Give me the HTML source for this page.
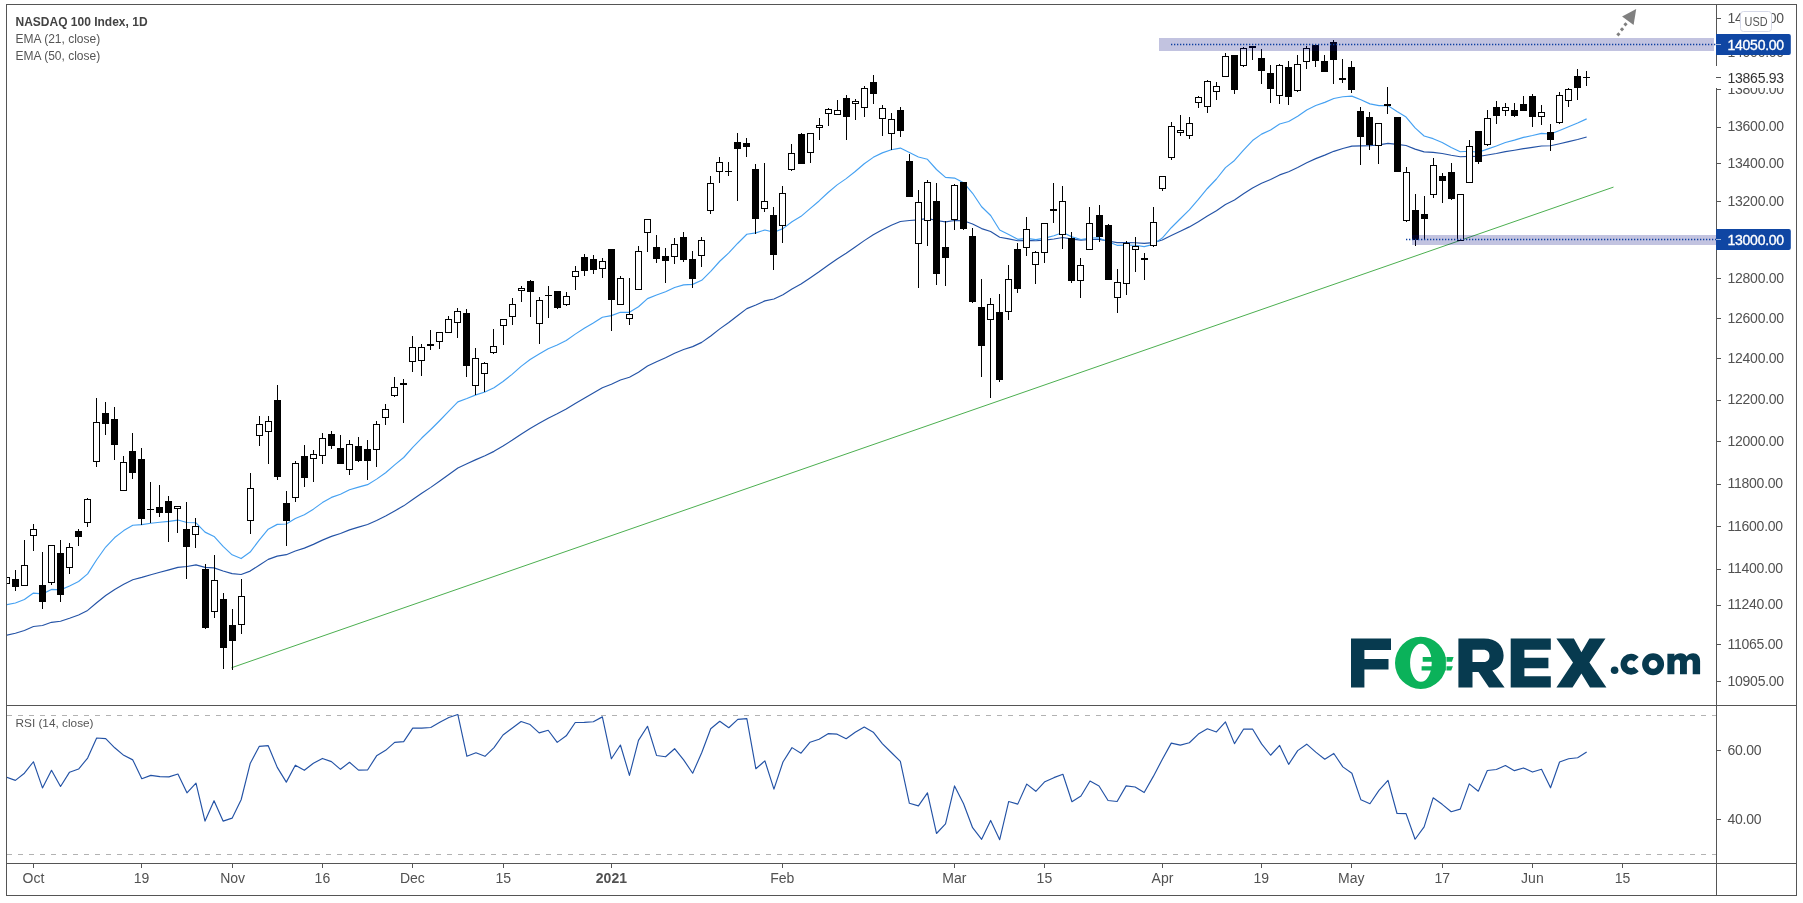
<!DOCTYPE html>
<html><head><meta charset="utf-8"><style>
html,body{margin:0;padding:0;background:#fff;}
svg{display:block;will-change:transform;}
text{font-family:"Liberation Sans", sans-serif;}
</style></head><body>
<svg width="1803" height="903" viewBox="0 0 1803 903">
<rect x="0" y="0" width="1803" height="903" fill="#fff"/>
<defs><clipPath id="mainclip"><rect x="7" y="5" width="1709" height="700"/></clipPath>
<clipPath id="rsiclip"><rect x="7" y="706" width="1709" height="157"/></clipPath></defs>

<g clip-path="url(#mainclip)">
<text x="15.5" y="26" font-size="12" font-weight="bold" fill="#434343">NASDAQ 100 Index, 1D</text>
<text x="15.5" y="43" font-size="12" fill="#555">EMA (21, close)</text>
<text x="15.5" y="60" font-size="12" fill="#555">EMA (50, close)</text>
<polyline points="6.35,635.20 15.38,633.28 24.41,630.56 33.44,626.51 42.47,625.53 51.50,622.33 60.53,621.24 69.56,618.30 78.59,615.06 87.63,610.42 96.66,602.76 105.69,595.49 114.72,589.40 123.75,584.29 132.78,579.81 141.81,577.39 150.84,574.69 159.87,572.22 168.90,569.86 177.93,567.34 186.96,566.53 195.99,564.92 205.02,567.35 214.05,567.85 223.08,570.94 232.11,573.65 241.14,574.53 250.17,571.09 259.20,565.17 268.23,559.37 277.26,556.09 286.29,554.69 295.32,551.04 304.35,548.12 313.38,544.37 322.41,540.12 331.44,536.36 340.47,533.47 349.51,529.89 358.54,527.16 367.57,524.53 376.60,520.52 385.63,516.07 394.66,510.90 403.69,505.85 412.72,499.45 421.75,493.31 430.78,487.36 439.81,481.09 448.84,474.53 457.87,467.93 466.90,463.84 475.93,459.62 484.96,455.77 493.99,451.37 503.02,446.06 512.05,440.35 521.08,434.21 530.11,428.46 539.14,423.31 548.17,418.17 557.20,413.75 566.23,409.04 575.26,403.49 584.29,398.16 593.32,393.00 602.36,387.70 611.39,384.19 620.42,379.95 629.45,377.32 638.48,372.25 647.51,366.05 656.54,361.75 665.57,357.71 674.60,353.16 683.63,349.43 692.66,346.63 701.69,342.37 710.72,335.94 719.75,328.90 728.78,322.52 737.81,315.46 746.84,308.62 755.87,305.03 764.90,300.88 773.93,299.06 782.96,294.80 791.99,289.10 801.02,284.05 810.05,277.97 819.08,271.79 828.11,265.23 837.14,258.96 846.17,253.22 855.20,247.07 864.24,240.64 873.27,234.74 882.30,229.67 891.33,225.25 900.36,221.48 909.39,220.53 918.42,219.81 927.45,218.34 936.48,220.49 945.51,221.94 954.54,220.49 963.57,220.82 972.60,223.94 981.63,228.61 990.66,231.54 999.69,237.20 1008.72,238.84 1017.75,240.78 1026.78,240.33 1035.81,240.79 1044.84,240.10 1053.87,238.96 1062.90,237.46 1071.93,239.15 1080.96,240.17 1089.99,239.51 1099.02,239.41 1108.05,240.97 1117.09,242.59 1126.12,242.61 1135.15,242.75 1144.18,243.43 1153.21,242.59 1162.24,239.95 1171.27,235.41 1180.30,231.21 1189.33,226.89 1198.36,221.68 1207.39,216.02 1216.42,210.80 1225.45,204.56 1234.48,199.96 1243.51,193.84 1252.54,187.95 1261.57,183.24 1270.60,179.47 1279.63,174.89 1288.66,171.77 1297.69,167.47 1306.72,162.69 1315.75,158.61 1324.78,155.15 1333.81,151.33 1342.84,148.49 1351.87,146.17 1360.90,145.81 1369.93,145.77 1378.97,144.87 1388.00,143.33 1397.03,144.43 1406.06,145.51 1415.09,149.13 1424.12,151.83 1433.15,152.35 1442.18,153.46 1451.21,155.23 1460.24,156.75 1469.27,156.33 1478.30,156.54 1487.33,155.03 1496.36,153.48 1505.39,151.66 1514.42,150.25 1523.45,148.69 1532.48,147.44 1541.51,146.05 1550.54,145.80 1559.57,143.80 1568.60,141.63 1577.63,139.49 1586.66,137.02" fill="none" stroke="#2453a6" stroke-width="1.15" stroke-linejoin="round"/>
<polyline points="6.35,604.70 15.38,603.05 24.41,599.57 33.44,593.09 42.47,593.87 51.50,589.41 60.53,589.89 69.56,585.98 78.59,581.47 87.63,573.89 96.66,559.72 105.69,547.03 114.72,537.55 123.75,530.60 132.78,525.27 141.81,524.68 150.84,523.28 159.87,522.30 168.90,521.44 177.93,520.06 186.96,522.48 195.99,522.79 205.02,532.14 214.05,536.46 223.08,546.39 232.11,554.83 241.14,558.56 250.17,552.09 259.20,540.20 268.23,529.15 277.26,524.38 286.29,524.03 295.32,518.44 304.35,514.71 313.38,509.15 322.41,502.62 331.44,497.40 340.47,494.32 349.51,489.69 358.54,487.09 367.57,484.68 376.60,479.13 385.63,472.71 394.66,464.84 403.69,457.50 412.72,447.29 421.75,438.04 430.78,429.52 439.81,420.51 448.84,411.12 457.87,401.89 466.90,398.58 475.93,394.88 484.96,391.98 493.99,387.78 503.02,381.48 512.05,374.36 521.08,366.41 530.11,359.52 539.14,354.09 548.17,348.69 557.20,344.94 566.23,340.49 575.26,334.12 584.29,328.31 593.32,322.93 602.36,317.26 611.39,315.65 620.42,312.24 629.45,312.36 638.48,306.75 647.51,298.61 656.54,294.95 665.57,291.81 674.60,287.45 683.63,284.91 692.66,284.37 701.69,280.33 710.72,271.36 719.75,261.25 728.78,252.90 737.81,243.23 746.84,234.28 755.87,232.86 764.90,229.98 773.93,232.24 782.96,228.61 791.99,221.67 801.02,216.32 810.05,208.66 819.08,200.94 828.11,192.49 837.14,184.90 846.17,178.60 855.20,171.44 864.24,163.74 873.27,157.36 882.30,152.87 891.33,149.81 900.36,148.08 909.39,152.52 918.42,157.00 927.45,159.30 936.48,169.50 945.51,177.40 954.54,178.11 963.57,182.67 972.60,193.27 981.63,206.75 990.66,215.48 999.69,230.00 1008.72,234.45 1017.75,239.35 1026.78,238.42 1035.81,239.66 1044.84,238.17 1053.87,235.70 1062.90,232.54 1071.93,236.89 1080.96,239.46 1089.99,237.99 1099.02,237.91 1108.05,241.66 1117.09,245.34 1126.12,245.15 1135.15,245.24 1144.18,246.58 1153.21,244.35 1162.24,238.08 1171.27,227.73 1180.30,218.73 1189.33,209.90 1198.36,199.46 1207.39,188.48 1216.42,179.00 1225.45,167.60 1234.48,160.44 1243.51,150.03 1252.54,140.57 1261.57,134.12 1270.60,129.97 1279.63,124.01 1288.66,121.50 1297.69,116.24 1306.72,109.99 1315.75,105.47 1324.78,102.39 1333.81,98.47 1342.84,96.78 1351.87,96.15 1360.90,99.84 1369.93,103.89 1378.97,105.61 1388.00,105.64 1397.03,111.57 1406.06,117.02 1415.09,127.91 1424.12,136.04 1433.15,138.67 1442.18,142.46 1451.21,147.55 1460.24,151.76 1469.27,151.26 1478.30,152.20 1487.33,149.09 1496.36,146.05 1505.39,142.51 1514.42,140.08 1523.45,137.41 1532.48,135.54 1541.51,133.42 1550.54,133.98 1559.57,130.44 1568.60,126.66 1577.63,123.08 1586.66,118.88" fill="none" stroke="#45a1f2" stroke-width="1.15" stroke-linejoin="round"/>
<line x1="231.4" y1="667.8" x2="1613.5" y2="187.1" stroke="#4caf50" stroke-width="1"/>
<line x1="6.5" y1="577" x2="6.5" y2="584" stroke="#000" stroke-width="1"/>
<rect x="3.5" y="577.5" width="6" height="6" fill="#fff" stroke="#000" stroke-width="1"/>
<line x1="15.5" y1="570" x2="15.5" y2="591" stroke="#000" stroke-width="1"/>
<rect x="12" y="579" width="7" height="8" fill="#000"/>
<line x1="24.5" y1="540" x2="24.5" y2="586" stroke="#000" stroke-width="1"/>
<rect x="21.5" y="565.5" width="6" height="20" fill="#fff" stroke="#000" stroke-width="1"/>
<line x1="33.5" y1="524" x2="33.5" y2="551" stroke="#000" stroke-width="1"/>
<rect x="30.5" y="529.5" width="6" height="6" fill="#fff" stroke="#000" stroke-width="1"/>
<line x1="42.5" y1="552" x2="42.5" y2="609" stroke="#000" stroke-width="1"/>
<rect x="39" y="585" width="7" height="17" fill="#000"/>
<line x1="51.5" y1="545" x2="51.5" y2="585" stroke="#000" stroke-width="1"/>
<rect x="48.5" y="545.5" width="6" height="37" fill="#fff" stroke="#000" stroke-width="1"/>
<line x1="60.5" y1="540" x2="60.5" y2="602" stroke="#000" stroke-width="1"/>
<rect x="57" y="553" width="7" height="42" fill="#000"/>
<line x1="69.5" y1="543" x2="69.5" y2="574" stroke="#000" stroke-width="1"/>
<rect x="66.5" y="547.5" width="6" height="20" fill="#fff" stroke="#000" stroke-width="1"/>
<line x1="78.5" y1="529" x2="78.5" y2="546" stroke="#000" stroke-width="1"/>
<rect x="75" y="531" width="7" height="6" fill="#000"/>
<line x1="87.5" y1="498" x2="87.5" y2="527" stroke="#000" stroke-width="1"/>
<rect x="84.5" y="499.5" width="6" height="23" fill="#fff" stroke="#000" stroke-width="1"/>
<line x1="96.5" y1="398" x2="96.5" y2="467" stroke="#000" stroke-width="1"/>
<rect x="93.5" y="422.5" width="6" height="39" fill="#fff" stroke="#000" stroke-width="1"/>
<line x1="105.5" y1="402" x2="105.5" y2="435" stroke="#000" stroke-width="1"/>
<rect x="102" y="413" width="7" height="11" fill="#000"/>
<line x1="114.5" y1="407" x2="114.5" y2="460" stroke="#000" stroke-width="1"/>
<rect x="111" y="419" width="7" height="26" fill="#000"/>
<line x1="123.5" y1="456" x2="123.5" y2="491" stroke="#000" stroke-width="1"/>
<rect x="120.5" y="462.5" width="6" height="28" fill="#fff" stroke="#000" stroke-width="1"/>
<line x1="132.5" y1="433" x2="132.5" y2="479" stroke="#000" stroke-width="1"/>
<rect x="129" y="451" width="7" height="22" fill="#000"/>
<line x1="141.5" y1="448" x2="141.5" y2="525" stroke="#000" stroke-width="1"/>
<rect x="138" y="459" width="7" height="60" fill="#000"/>
<line x1="150.5" y1="482" x2="150.5" y2="523" stroke="#000" stroke-width="1"/>
<rect x="147" y="509" width="7" height="1" fill="#000"/>
<line x1="159.5" y1="485" x2="159.5" y2="517" stroke="#000" stroke-width="1"/>
<rect x="156" y="507" width="7" height="6" fill="#000"/>
<line x1="168.5" y1="496" x2="168.5" y2="542" stroke="#000" stroke-width="1"/>
<rect x="165" y="501" width="7" height="12" fill="#000"/>
<line x1="177.5" y1="506" x2="177.5" y2="533" stroke="#000" stroke-width="1"/>
<rect x="174.5" y="506.5" width="6" height="2" fill="#fff" stroke="#000" stroke-width="1"/>
<line x1="186.5" y1="502" x2="186.5" y2="579" stroke="#000" stroke-width="1"/>
<rect x="183" y="529" width="7" height="18" fill="#000"/>
<line x1="195.5" y1="518" x2="195.5" y2="548" stroke="#000" stroke-width="1"/>
<rect x="192.5" y="526.5" width="6" height="8" fill="#fff" stroke="#000" stroke-width="1"/>
<line x1="205.5" y1="564" x2="205.5" y2="629" stroke="#000" stroke-width="1"/>
<rect x="202" y="569" width="7" height="59" fill="#000"/>
<line x1="214.5" y1="555" x2="214.5" y2="618" stroke="#000" stroke-width="1"/>
<rect x="211.5" y="580.5" width="6" height="31" fill="#fff" stroke="#000" stroke-width="1"/>
<line x1="223.5" y1="593" x2="223.5" y2="669" stroke="#000" stroke-width="1"/>
<rect x="220" y="599" width="7" height="49" fill="#000"/>
<line x1="232.5" y1="609" x2="232.5" y2="670" stroke="#000" stroke-width="1"/>
<rect x="229" y="625" width="7" height="16" fill="#000"/>
<line x1="241.5" y1="579" x2="241.5" y2="634" stroke="#000" stroke-width="1"/>
<rect x="238.5" y="596.5" width="6" height="28" fill="#fff" stroke="#000" stroke-width="1"/>
<line x1="250.5" y1="473" x2="250.5" y2="534" stroke="#000" stroke-width="1"/>
<rect x="247.5" y="488.5" width="6" height="32" fill="#fff" stroke="#000" stroke-width="1"/>
<line x1="259.5" y1="416" x2="259.5" y2="446" stroke="#000" stroke-width="1"/>
<rect x="256.5" y="424.5" width="6" height="11" fill="#fff" stroke="#000" stroke-width="1"/>
<line x1="268.5" y1="416" x2="268.5" y2="464" stroke="#000" stroke-width="1"/>
<rect x="265.5" y="421.5" width="6" height="10" fill="#fff" stroke="#000" stroke-width="1"/>
<line x1="277.5" y1="385" x2="277.5" y2="480" stroke="#000" stroke-width="1"/>
<rect x="274" y="400" width="7" height="77" fill="#000"/>
<line x1="286.5" y1="491" x2="286.5" y2="546" stroke="#000" stroke-width="1"/>
<rect x="283" y="503" width="7" height="18" fill="#000"/>
<line x1="295.5" y1="461" x2="295.5" y2="502" stroke="#000" stroke-width="1"/>
<rect x="292.5" y="463.5" width="6" height="34" fill="#fff" stroke="#000" stroke-width="1"/>
<line x1="304.5" y1="445" x2="304.5" y2="487" stroke="#000" stroke-width="1"/>
<rect x="301" y="456" width="7" height="22" fill="#000"/>
<line x1="313.5" y1="450" x2="313.5" y2="482" stroke="#000" stroke-width="1"/>
<rect x="310.5" y="454.5" width="6" height="4" fill="#fff" stroke="#000" stroke-width="1"/>
<line x1="322.5" y1="433" x2="322.5" y2="464" stroke="#000" stroke-width="1"/>
<rect x="319.5" y="438.5" width="6" height="17" fill="#fff" stroke="#000" stroke-width="1"/>
<line x1="331.5" y1="431" x2="331.5" y2="449" stroke="#000" stroke-width="1"/>
<rect x="328" y="434" width="7" height="12" fill="#000"/>
<line x1="340.5" y1="435" x2="340.5" y2="464" stroke="#000" stroke-width="1"/>
<rect x="337" y="448" width="7" height="16" fill="#000"/>
<line x1="349.5" y1="440" x2="349.5" y2="475" stroke="#000" stroke-width="1"/>
<rect x="346.5" y="444.5" width="6" height="25" fill="#fff" stroke="#000" stroke-width="1"/>
<line x1="358.5" y1="437" x2="358.5" y2="462" stroke="#000" stroke-width="1"/>
<rect x="355" y="446" width="7" height="15" fill="#000"/>
<line x1="367.5" y1="440" x2="367.5" y2="480" stroke="#000" stroke-width="1"/>
<rect x="364" y="449" width="7" height="12" fill="#000"/>
<line x1="376.5" y1="421" x2="376.5" y2="467" stroke="#000" stroke-width="1"/>
<rect x="373.5" y="424.5" width="6" height="25" fill="#fff" stroke="#000" stroke-width="1"/>
<line x1="385.5" y1="404" x2="385.5" y2="425" stroke="#000" stroke-width="1"/>
<rect x="382.5" y="409.5" width="6" height="8" fill="#fff" stroke="#000" stroke-width="1"/>
<line x1="394.5" y1="377" x2="394.5" y2="397" stroke="#000" stroke-width="1"/>
<rect x="391.5" y="387.5" width="6" height="8" fill="#fff" stroke="#000" stroke-width="1"/>
<line x1="403.5" y1="379" x2="403.5" y2="423" stroke="#000" stroke-width="1"/>
<rect x="400" y="383" width="7" height="2" fill="#000"/>
<line x1="412.5" y1="336" x2="412.5" y2="372" stroke="#000" stroke-width="1"/>
<rect x="409.5" y="347.5" width="6" height="14" fill="#fff" stroke="#000" stroke-width="1"/>
<line x1="421.5" y1="344" x2="421.5" y2="376" stroke="#000" stroke-width="1"/>
<rect x="418.5" y="347.5" width="6" height="13" fill="#fff" stroke="#000" stroke-width="1"/>
<line x1="430.5" y1="330" x2="430.5" y2="350" stroke="#000" stroke-width="1"/>
<rect x="427" y="344" width="7" height="2" fill="#000"/>
<line x1="439.5" y1="332" x2="439.5" y2="349" stroke="#000" stroke-width="1"/>
<rect x="436.5" y="332.5" width="6" height="9" fill="#fff" stroke="#000" stroke-width="1"/>
<line x1="448.5" y1="316" x2="448.5" y2="333" stroke="#000" stroke-width="1"/>
<rect x="445.5" y="319.5" width="6" height="13" fill="#fff" stroke="#000" stroke-width="1"/>
<line x1="457.5" y1="308" x2="457.5" y2="338" stroke="#000" stroke-width="1"/>
<rect x="454.5" y="311.5" width="6" height="11" fill="#fff" stroke="#000" stroke-width="1"/>
<line x1="466.5" y1="309" x2="466.5" y2="377" stroke="#000" stroke-width="1"/>
<rect x="463" y="313" width="7" height="53" fill="#000"/>
<line x1="475.5" y1="348" x2="475.5" y2="395" stroke="#000" stroke-width="1"/>
<rect x="472.5" y="358.5" width="6" height="27" fill="#fff" stroke="#000" stroke-width="1"/>
<line x1="484.5" y1="362" x2="484.5" y2="392" stroke="#000" stroke-width="1"/>
<rect x="481.5" y="363.5" width="6" height="10" fill="#fff" stroke="#000" stroke-width="1"/>
<line x1="493.5" y1="329" x2="493.5" y2="354" stroke="#000" stroke-width="1"/>
<rect x="490.5" y="346.5" width="6" height="6" fill="#fff" stroke="#000" stroke-width="1"/>
<line x1="503.5" y1="319" x2="503.5" y2="345" stroke="#000" stroke-width="1"/>
<rect x="500.5" y="319.5" width="6" height="6" fill="#fff" stroke="#000" stroke-width="1"/>
<line x1="512.5" y1="298" x2="512.5" y2="325" stroke="#000" stroke-width="1"/>
<rect x="509.5" y="304.5" width="6" height="12" fill="#fff" stroke="#000" stroke-width="1"/>
<line x1="521.5" y1="286" x2="521.5" y2="302" stroke="#000" stroke-width="1"/>
<rect x="518.5" y="288.5" width="6" height="2" fill="#fff" stroke="#000" stroke-width="1"/>
<line x1="530.5" y1="280" x2="530.5" y2="317" stroke="#000" stroke-width="1"/>
<rect x="527" y="281" width="7" height="11" fill="#000"/>
<line x1="539.5" y1="297" x2="539.5" y2="344" stroke="#000" stroke-width="1"/>
<rect x="536.5" y="300.5" width="6" height="23" fill="#fff" stroke="#000" stroke-width="1"/>
<line x1="548.5" y1="286" x2="548.5" y2="318" stroke="#000" stroke-width="1"/>
<rect x="545" y="295" width="7" height="1" fill="#000"/>
<line x1="557.5" y1="291" x2="557.5" y2="309" stroke="#000" stroke-width="1"/>
<rect x="554" y="291" width="7" height="17" fill="#000"/>
<line x1="566.5" y1="292" x2="566.5" y2="306" stroke="#000" stroke-width="1"/>
<rect x="563.5" y="296.5" width="6" height="8" fill="#fff" stroke="#000" stroke-width="1"/>
<line x1="575.5" y1="266" x2="575.5" y2="290" stroke="#000" stroke-width="1"/>
<rect x="572.5" y="271.5" width="6" height="5" fill="#fff" stroke="#000" stroke-width="1"/>
<line x1="584.5" y1="254" x2="584.5" y2="276" stroke="#000" stroke-width="1"/>
<rect x="581" y="257" width="7" height="14" fill="#000"/>
<line x1="593.5" y1="255" x2="593.5" y2="274" stroke="#000" stroke-width="1"/>
<rect x="590" y="259" width="7" height="11" fill="#000"/>
<line x1="602.5" y1="258" x2="602.5" y2="278" stroke="#000" stroke-width="1"/>
<rect x="599.5" y="261.5" width="6" height="7" fill="#fff" stroke="#000" stroke-width="1"/>
<line x1="611.5" y1="249" x2="611.5" y2="331" stroke="#000" stroke-width="1"/>
<rect x="608" y="249" width="7" height="51" fill="#000"/>
<line x1="620.5" y1="276" x2="620.5" y2="305" stroke="#000" stroke-width="1"/>
<rect x="617.5" y="278.5" width="6" height="26" fill="#fff" stroke="#000" stroke-width="1"/>
<line x1="629.5" y1="278" x2="629.5" y2="325" stroke="#000" stroke-width="1"/>
<rect x="626.5" y="314.5" width="6" height="4" fill="#fff" stroke="#000" stroke-width="1"/>
<line x1="638.5" y1="246" x2="638.5" y2="290" stroke="#000" stroke-width="1"/>
<rect x="635.5" y="251.5" width="6" height="38" fill="#fff" stroke="#000" stroke-width="1"/>
<line x1="647.5" y1="219" x2="647.5" y2="252" stroke="#000" stroke-width="1"/>
<rect x="644.5" y="219.5" width="6" height="13" fill="#fff" stroke="#000" stroke-width="1"/>
<line x1="656.5" y1="235" x2="656.5" y2="263" stroke="#000" stroke-width="1"/>
<rect x="653" y="247" width="7" height="12" fill="#000"/>
<line x1="665.5" y1="248" x2="665.5" y2="283" stroke="#000" stroke-width="1"/>
<rect x="662" y="256" width="7" height="5" fill="#000"/>
<line x1="674.5" y1="238" x2="674.5" y2="264" stroke="#000" stroke-width="1"/>
<rect x="671.5" y="244.5" width="6" height="12" fill="#fff" stroke="#000" stroke-width="1"/>
<line x1="683.5" y1="232" x2="683.5" y2="262" stroke="#000" stroke-width="1"/>
<rect x="680" y="237" width="7" height="23" fill="#000"/>
<line x1="692.5" y1="251" x2="692.5" y2="288" stroke="#000" stroke-width="1"/>
<rect x="689" y="259" width="7" height="20" fill="#000"/>
<line x1="701.5" y1="237" x2="701.5" y2="267" stroke="#000" stroke-width="1"/>
<rect x="698.5" y="240.5" width="6" height="15" fill="#fff" stroke="#000" stroke-width="1"/>
<line x1="710.5" y1="176" x2="710.5" y2="214" stroke="#000" stroke-width="1"/>
<rect x="707.5" y="183.5" width="6" height="27" fill="#fff" stroke="#000" stroke-width="1"/>
<line x1="719.5" y1="157" x2="719.5" y2="183" stroke="#000" stroke-width="1"/>
<rect x="716.5" y="162.5" width="6" height="9" fill="#fff" stroke="#000" stroke-width="1"/>
<line x1="728.5" y1="162" x2="728.5" y2="176" stroke="#000" stroke-width="1"/>
<rect x="725" y="171" width="7" height="1" fill="#000"/>
<line x1="737.5" y1="133" x2="737.5" y2="201" stroke="#000" stroke-width="1"/>
<rect x="734" y="142" width="7" height="7" fill="#000"/>
<line x1="746.5" y1="138" x2="746.5" y2="157" stroke="#000" stroke-width="1"/>
<rect x="743" y="143" width="7" height="4" fill="#000"/>
<line x1="755.5" y1="164" x2="755.5" y2="234" stroke="#000" stroke-width="1"/>
<rect x="752" y="169" width="7" height="50" fill="#000"/>
<line x1="764.5" y1="163" x2="764.5" y2="212" stroke="#000" stroke-width="1"/>
<rect x="761.5" y="201.5" width="6" height="7" fill="#fff" stroke="#000" stroke-width="1"/>
<line x1="773.5" y1="207" x2="773.5" y2="270" stroke="#000" stroke-width="1"/>
<rect x="770" y="215" width="7" height="40" fill="#000"/>
<line x1="782.5" y1="186" x2="782.5" y2="243" stroke="#000" stroke-width="1"/>
<rect x="779.5" y="193.5" width="6" height="32" fill="#fff" stroke="#000" stroke-width="1"/>
<line x1="791.5" y1="144" x2="791.5" y2="171" stroke="#000" stroke-width="1"/>
<rect x="788.5" y="153.5" width="6" height="16" fill="#fff" stroke="#000" stroke-width="1"/>
<line x1="801.5" y1="133" x2="801.5" y2="164" stroke="#000" stroke-width="1"/>
<rect x="798" y="134" width="7" height="30" fill="#000"/>
<line x1="810.5" y1="133" x2="810.5" y2="163" stroke="#000" stroke-width="1"/>
<rect x="807.5" y="133.5" width="6" height="19" fill="#fff" stroke="#000" stroke-width="1"/>
<line x1="819.5" y1="118" x2="819.5" y2="140" stroke="#000" stroke-width="1"/>
<rect x="816.5" y="125.5" width="6" height="2" fill="#fff" stroke="#000" stroke-width="1"/>
<line x1="828.5" y1="108" x2="828.5" y2="126" stroke="#000" stroke-width="1"/>
<rect x="825.5" y="109.5" width="6" height="4" fill="#fff" stroke="#000" stroke-width="1"/>
<line x1="837.5" y1="100" x2="837.5" y2="115" stroke="#000" stroke-width="1"/>
<rect x="834.5" y="110.5" width="6" height="4" fill="#fff" stroke="#000" stroke-width="1"/>
<line x1="846.5" y1="95" x2="846.5" y2="140" stroke="#000" stroke-width="1"/>
<rect x="843" y="98" width="7" height="19" fill="#000"/>
<line x1="855.5" y1="99" x2="855.5" y2="120" stroke="#000" stroke-width="1"/>
<rect x="852.5" y="101.5" width="6" height="2" fill="#fff" stroke="#000" stroke-width="1"/>
<line x1="864.5" y1="86" x2="864.5" y2="117" stroke="#000" stroke-width="1"/>
<rect x="861.5" y="88.5" width="6" height="19" fill="#fff" stroke="#000" stroke-width="1"/>
<line x1="873.5" y1="75" x2="873.5" y2="104" stroke="#000" stroke-width="1"/>
<rect x="870" y="82" width="7" height="12" fill="#000"/>
<line x1="882.5" y1="105" x2="882.5" y2="136" stroke="#000" stroke-width="1"/>
<rect x="879.5" y="108.5" width="6" height="10" fill="#fff" stroke="#000" stroke-width="1"/>
<line x1="891.5" y1="113" x2="891.5" y2="150" stroke="#000" stroke-width="1"/>
<rect x="888.5" y="119.5" width="6" height="14" fill="#fff" stroke="#000" stroke-width="1"/>
<line x1="900.5" y1="107" x2="900.5" y2="137" stroke="#000" stroke-width="1"/>
<rect x="897" y="110" width="7" height="21" fill="#000"/>
<line x1="909.5" y1="154" x2="909.5" y2="197" stroke="#000" stroke-width="1"/>
<rect x="906" y="161" width="7" height="36" fill="#000"/>
<line x1="918.5" y1="190" x2="918.5" y2="288" stroke="#000" stroke-width="1"/>
<rect x="915.5" y="202.5" width="6" height="41" fill="#fff" stroke="#000" stroke-width="1"/>
<line x1="927.5" y1="180" x2="927.5" y2="246" stroke="#000" stroke-width="1"/>
<rect x="924.5" y="182.5" width="6" height="38" fill="#fff" stroke="#000" stroke-width="1"/>
<line x1="936.5" y1="183" x2="936.5" y2="285" stroke="#000" stroke-width="1"/>
<rect x="933" y="201" width="7" height="73" fill="#000"/>
<line x1="945.5" y1="221" x2="945.5" y2="286" stroke="#000" stroke-width="1"/>
<rect x="942" y="247" width="7" height="11" fill="#000"/>
<line x1="954.5" y1="184" x2="954.5" y2="230" stroke="#000" stroke-width="1"/>
<rect x="951.5" y="185.5" width="6" height="34" fill="#fff" stroke="#000" stroke-width="1"/>
<line x1="963.5" y1="182" x2="963.5" y2="230" stroke="#000" stroke-width="1"/>
<rect x="960" y="182" width="7" height="47" fill="#000"/>
<line x1="972.5" y1="228" x2="972.5" y2="303" stroke="#000" stroke-width="1"/>
<rect x="969" y="236" width="7" height="66" fill="#000"/>
<line x1="981.5" y1="279" x2="981.5" y2="377" stroke="#000" stroke-width="1"/>
<rect x="978" y="307" width="7" height="39" fill="#000"/>
<line x1="990.5" y1="298" x2="990.5" y2="398" stroke="#000" stroke-width="1"/>
<rect x="987.5" y="304.5" width="6" height="15" fill="#fff" stroke="#000" stroke-width="1"/>
<line x1="999.5" y1="294" x2="999.5" y2="382" stroke="#000" stroke-width="1"/>
<rect x="996" y="312" width="7" height="68" fill="#000"/>
<line x1="1008.5" y1="265" x2="1008.5" y2="320" stroke="#000" stroke-width="1"/>
<rect x="1005.5" y="279.5" width="6" height="32" fill="#fff" stroke="#000" stroke-width="1"/>
<line x1="1017.5" y1="243" x2="1017.5" y2="293" stroke="#000" stroke-width="1"/>
<rect x="1014" y="249" width="7" height="40" fill="#000"/>
<line x1="1026.5" y1="217" x2="1026.5" y2="256" stroke="#000" stroke-width="1"/>
<rect x="1023.5" y="229.5" width="6" height="18" fill="#fff" stroke="#000" stroke-width="1"/>
<line x1="1035.5" y1="251" x2="1035.5" y2="284" stroke="#000" stroke-width="1"/>
<rect x="1032.5" y="252.5" width="6" height="12" fill="#fff" stroke="#000" stroke-width="1"/>
<line x1="1044.5" y1="223" x2="1044.5" y2="263" stroke="#000" stroke-width="1"/>
<rect x="1041.5" y="223.5" width="6" height="29" fill="#fff" stroke="#000" stroke-width="1"/>
<line x1="1053.5" y1="183" x2="1053.5" y2="223" stroke="#000" stroke-width="1"/>
<rect x="1050" y="209" width="7" height="2" fill="#000"/>
<line x1="1062.5" y1="186" x2="1062.5" y2="249" stroke="#000" stroke-width="1"/>
<rect x="1059.5" y="201.5" width="6" height="33" fill="#fff" stroke="#000" stroke-width="1"/>
<line x1="1071.5" y1="232" x2="1071.5" y2="283" stroke="#000" stroke-width="1"/>
<rect x="1068" y="238" width="7" height="43" fill="#000"/>
<line x1="1080.5" y1="258" x2="1080.5" y2="298" stroke="#000" stroke-width="1"/>
<rect x="1077.5" y="265.5" width="6" height="15" fill="#fff" stroke="#000" stroke-width="1"/>
<line x1="1089.5" y1="207" x2="1089.5" y2="250" stroke="#000" stroke-width="1"/>
<rect x="1086.5" y="223.5" width="6" height="26" fill="#fff" stroke="#000" stroke-width="1"/>
<line x1="1099.5" y1="205" x2="1099.5" y2="242" stroke="#000" stroke-width="1"/>
<rect x="1096" y="215" width="7" height="22" fill="#000"/>
<line x1="1108.5" y1="224" x2="1108.5" y2="280" stroke="#000" stroke-width="1"/>
<rect x="1105" y="225" width="7" height="55" fill="#000"/>
<line x1="1117.5" y1="269" x2="1117.5" y2="313" stroke="#000" stroke-width="1"/>
<rect x="1114.5" y="282.5" width="6" height="15" fill="#fff" stroke="#000" stroke-width="1"/>
<line x1="1126.5" y1="241" x2="1126.5" y2="295" stroke="#000" stroke-width="1"/>
<rect x="1123.5" y="243.5" width="6" height="40" fill="#fff" stroke="#000" stroke-width="1"/>
<line x1="1135.5" y1="237" x2="1135.5" y2="272" stroke="#000" stroke-width="1"/>
<rect x="1132.5" y="246.5" width="6" height="3" fill="#fff" stroke="#000" stroke-width="1"/>
<line x1="1144.5" y1="253" x2="1144.5" y2="280" stroke="#000" stroke-width="1"/>
<rect x="1141" y="258" width="7" height="2" fill="#000"/>
<line x1="1153.5" y1="207" x2="1153.5" y2="247" stroke="#000" stroke-width="1"/>
<rect x="1150.5" y="222.5" width="6" height="23" fill="#fff" stroke="#000" stroke-width="1"/>
<line x1="1162.5" y1="176" x2="1162.5" y2="191" stroke="#000" stroke-width="1"/>
<rect x="1159.5" y="176.5" width="6" height="12" fill="#fff" stroke="#000" stroke-width="1"/>
<line x1="1171.5" y1="122" x2="1171.5" y2="160" stroke="#000" stroke-width="1"/>
<rect x="1168.5" y="126.5" width="6" height="31" fill="#fff" stroke="#000" stroke-width="1"/>
<line x1="1180.5" y1="115" x2="1180.5" y2="136" stroke="#000" stroke-width="1"/>
<rect x="1177.5" y="130.5" width="6" height="2" fill="#fff" stroke="#000" stroke-width="1"/>
<line x1="1189.5" y1="117" x2="1189.5" y2="139" stroke="#000" stroke-width="1"/>
<rect x="1186.5" y="123.5" width="6" height="12" fill="#fff" stroke="#000" stroke-width="1"/>
<line x1="1198.5" y1="96" x2="1198.5" y2="108" stroke="#000" stroke-width="1"/>
<rect x="1195.5" y="97.5" width="6" height="5" fill="#fff" stroke="#000" stroke-width="1"/>
<line x1="1207.5" y1="80" x2="1207.5" y2="113" stroke="#000" stroke-width="1"/>
<rect x="1204.5" y="81.5" width="6" height="25" fill="#fff" stroke="#000" stroke-width="1"/>
<line x1="1216.5" y1="82" x2="1216.5" y2="100" stroke="#000" stroke-width="1"/>
<rect x="1213.5" y="86.5" width="6" height="5" fill="#fff" stroke="#000" stroke-width="1"/>
<line x1="1225.5" y1="53" x2="1225.5" y2="77" stroke="#000" stroke-width="1"/>
<rect x="1222.5" y="56.5" width="6" height="20" fill="#fff" stroke="#000" stroke-width="1"/>
<line x1="1234.5" y1="55" x2="1234.5" y2="94" stroke="#000" stroke-width="1"/>
<rect x="1231" y="55" width="7" height="35" fill="#000"/>
<line x1="1243.5" y1="47" x2="1243.5" y2="67" stroke="#000" stroke-width="1"/>
<rect x="1240.5" y="48.5" width="6" height="17" fill="#fff" stroke="#000" stroke-width="1"/>
<line x1="1252.5" y1="46" x2="1252.5" y2="60" stroke="#000" stroke-width="1"/>
<rect x="1249" y="46" width="7" height="2" fill="#000"/>
<line x1="1261.5" y1="49" x2="1261.5" y2="84" stroke="#000" stroke-width="1"/>
<rect x="1258" y="58" width="7" height="13" fill="#000"/>
<line x1="1270.5" y1="65" x2="1270.5" y2="103" stroke="#000" stroke-width="1"/>
<rect x="1267" y="73" width="7" height="16" fill="#000"/>
<line x1="1279.5" y1="64" x2="1279.5" y2="104" stroke="#000" stroke-width="1"/>
<rect x="1276.5" y="65.5" width="6" height="30" fill="#fff" stroke="#000" stroke-width="1"/>
<line x1="1288.5" y1="61" x2="1288.5" y2="105" stroke="#000" stroke-width="1"/>
<rect x="1285" y="67" width="7" height="30" fill="#000"/>
<line x1="1297.5" y1="55" x2="1297.5" y2="92" stroke="#000" stroke-width="1"/>
<rect x="1294.5" y="64.5" width="6" height="26" fill="#fff" stroke="#000" stroke-width="1"/>
<line x1="1306.5" y1="46" x2="1306.5" y2="69" stroke="#000" stroke-width="1"/>
<rect x="1303.5" y="48.5" width="6" height="13" fill="#fff" stroke="#000" stroke-width="1"/>
<line x1="1315.5" y1="45" x2="1315.5" y2="67" stroke="#000" stroke-width="1"/>
<rect x="1312" y="45" width="7" height="16" fill="#000"/>
<line x1="1324.5" y1="55" x2="1324.5" y2="72" stroke="#000" stroke-width="1"/>
<rect x="1321" y="61" width="7" height="11" fill="#000"/>
<line x1="1333.5" y1="40" x2="1333.5" y2="84" stroke="#000" stroke-width="1"/>
<rect x="1330" y="42" width="7" height="18" fill="#000"/>
<line x1="1342.5" y1="59" x2="1342.5" y2="83" stroke="#000" stroke-width="1"/>
<rect x="1339" y="78" width="7" height="2" fill="#000"/>
<line x1="1351.5" y1="61" x2="1351.5" y2="93" stroke="#000" stroke-width="1"/>
<rect x="1348" y="67" width="7" height="23" fill="#000"/>
<line x1="1360.5" y1="107" x2="1360.5" y2="165" stroke="#000" stroke-width="1"/>
<rect x="1357" y="111" width="7" height="26" fill="#000"/>
<line x1="1369.5" y1="112" x2="1369.5" y2="150" stroke="#000" stroke-width="1"/>
<rect x="1366" y="117" width="7" height="28" fill="#000"/>
<line x1="1378.5" y1="123" x2="1378.5" y2="164" stroke="#000" stroke-width="1"/>
<rect x="1375.5" y="123.5" width="6" height="22" fill="#fff" stroke="#000" stroke-width="1"/>
<line x1="1387.5" y1="87" x2="1387.5" y2="114" stroke="#000" stroke-width="1"/>
<rect x="1384" y="104" width="7" height="2" fill="#000"/>
<line x1="1397.5" y1="117" x2="1397.5" y2="172" stroke="#000" stroke-width="1"/>
<rect x="1394" y="117" width="7" height="55" fill="#000"/>
<line x1="1406.5" y1="167" x2="1406.5" y2="222" stroke="#000" stroke-width="1"/>
<rect x="1403.5" y="172.5" width="6" height="48" fill="#fff" stroke="#000" stroke-width="1"/>
<line x1="1415.5" y1="194" x2="1415.5" y2="246" stroke="#000" stroke-width="1"/>
<rect x="1412" y="210" width="7" height="30" fill="#000"/>
<line x1="1424.5" y1="196" x2="1424.5" y2="240" stroke="#000" stroke-width="1"/>
<rect x="1421" y="214" width="7" height="5" fill="#000"/>
<line x1="1433.5" y1="158" x2="1433.5" y2="198" stroke="#000" stroke-width="1"/>
<rect x="1430.5" y="165.5" width="6" height="29" fill="#fff" stroke="#000" stroke-width="1"/>
<line x1="1442.5" y1="173" x2="1442.5" y2="203" stroke="#000" stroke-width="1"/>
<rect x="1439" y="176" width="7" height="5" fill="#000"/>
<line x1="1451.5" y1="163" x2="1451.5" y2="200" stroke="#000" stroke-width="1"/>
<rect x="1448" y="172" width="7" height="27" fill="#000"/>
<line x1="1460.5" y1="194" x2="1460.5" y2="241" stroke="#000" stroke-width="1"/>
<rect x="1457.5" y="194.5" width="6" height="46" fill="#fff" stroke="#000" stroke-width="1"/>
<line x1="1469.5" y1="140" x2="1469.5" y2="183" stroke="#000" stroke-width="1"/>
<rect x="1466.5" y="146.5" width="6" height="36" fill="#fff" stroke="#000" stroke-width="1"/>
<line x1="1478.5" y1="131" x2="1478.5" y2="164" stroke="#000" stroke-width="1"/>
<rect x="1475" y="131" width="7" height="31" fill="#000"/>
<line x1="1487.5" y1="110" x2="1487.5" y2="146" stroke="#000" stroke-width="1"/>
<rect x="1484.5" y="118.5" width="6" height="26" fill="#fff" stroke="#000" stroke-width="1"/>
<line x1="1496.5" y1="101" x2="1496.5" y2="124" stroke="#000" stroke-width="1"/>
<rect x="1493" y="107" width="7" height="9" fill="#000"/>
<line x1="1505.5" y1="103" x2="1505.5" y2="116" stroke="#000" stroke-width="1"/>
<rect x="1502.5" y="107.5" width="6" height="3" fill="#fff" stroke="#000" stroke-width="1"/>
<line x1="1514.5" y1="103" x2="1514.5" y2="117" stroke="#000" stroke-width="1"/>
<rect x="1511" y="110" width="7" height="6" fill="#000"/>
<line x1="1523.5" y1="96" x2="1523.5" y2="111" stroke="#000" stroke-width="1"/>
<rect x="1520" y="104" width="7" height="7" fill="#000"/>
<line x1="1532.5" y1="94" x2="1532.5" y2="127" stroke="#000" stroke-width="1"/>
<rect x="1529" y="96" width="7" height="21" fill="#000"/>
<line x1="1541.5" y1="105" x2="1541.5" y2="125" stroke="#000" stroke-width="1"/>
<rect x="1538.5" y="112.5" width="6" height="4" fill="#fff" stroke="#000" stroke-width="1"/>
<line x1="1550.5" y1="124" x2="1550.5" y2="151" stroke="#000" stroke-width="1"/>
<rect x="1547" y="132" width="7" height="8" fill="#000"/>
<line x1="1559.5" y1="92" x2="1559.5" y2="124" stroke="#000" stroke-width="1"/>
<rect x="1556.5" y="95.5" width="6" height="27" fill="#fff" stroke="#000" stroke-width="1"/>
<line x1="1568.5" y1="88" x2="1568.5" y2="107" stroke="#000" stroke-width="1"/>
<rect x="1565.5" y="89.5" width="6" height="11" fill="#fff" stroke="#000" stroke-width="1"/>
<line x1="1577.5" y1="69" x2="1577.5" y2="100" stroke="#000" stroke-width="1"/>
<rect x="1574" y="76" width="7" height="12" fill="#000"/>
<line x1="1586.5" y1="71" x2="1586.5" y2="86" stroke="#000" stroke-width="1"/>
<rect x="1583" y="77" width="7" height="1" fill="#000"/>
<rect x="1159" y="38" width="555" height="13" fill="rgb(0,4,127)" fill-opacity="0.24"/>
<line x1="1171" y1="44.5" x2="1716" y2="44.5" stroke="#0d3fa0" stroke-width="1.3" stroke-dasharray="1.3 1.7"/>
<rect x="1412" y="235" width="304" height="10" fill="rgb(0,4,127)" fill-opacity="0.24"/>
<line x1="1406" y1="239.5" x2="1716" y2="239.5" stroke="#0d3fa0" stroke-width="1.3" stroke-dasharray="1.3 1.7"/>
<polygon points="1636.2,9.1 1622.1,16.5 1633.6,24.9" fill="#808080"/>
<rect x="1624.0" y="22.8" width="3" height="3" fill="#808080" transform="rotate(45 1625.5 24.3)"/>
<rect x="1620.5" y="27.8" width="3" height="3" fill="#808080" transform="rotate(45 1622 29.3)"/>
<rect x="1616.9" y="32.8" width="3" height="3" fill="#808080" transform="rotate(45 1618.4 34.3)"/>
<path d="M1351,638.5 H1391 V650.1 H1364.4 V659.1 H1388.5 V669.6 H1364.4 V687.6 H1351 Z" fill="#073a4f"/>
<path fill-rule="evenodd" d="M1395,662.9 a25.7,26.1 0 1,0 51.4,0 a25.7,26.1 0 1,0 -51.4,0 Z M1410.1,662.7 a10.8,19 0 1,0 21.6,0 a10.8,19 0 1,0 -21.6,0 Z" fill="#0bb25a"/>
<path d="M1422.7,657 H1453.6 L1451.9,661.7 H1422.7 Z M1421.6,666.3 H1452.9 L1451.2,670.6 H1421.6 Z" fill="#0bb25a"/>
<line x1="1446.3" y1="655" x2="1446.3" y2="672" stroke="#fff" stroke-width="0.6"/>
<path fill-rule="evenodd" d="M1458.4,638.5 H1484 C1496.5,638.5 1503.6,645.5 1503.6,655.5 C1503.6,663 1499.5,668.5 1492.3,670.5 L1504.6,687.5 H1489 L1478.5,672 H1472.5 V687.5 H1458.4 Z M1472.5,649.8 V662 H1483 C1487.5,662 1489.5,659.5 1489.5,655.9 C1489.5,652.3 1487.5,649.8 1483,649.8 Z" fill="#073a4f"/>
<path d="M1510.7,638.5 H1550.8 V649.8 H1524.4 V657.8 H1548.4 V668.2 H1524.4 V676.2 H1550.8 V687.5 H1510.7 Z" fill="#073a4f"/>
<path d="M1556.4,638.5 H1573.9 L1581.4,652.2 L1589.4,638.5 H1605.5 L1589.4,662.5 L1606.4,687.5 H1590 L1581.4,673.4 L1572.5,687.5 H1556.4 L1573,662.5 Z" fill="#073a4f"/>
<circle cx="1614.6" cy="670.2" r="3.8" fill="#073a4f"/>
<path d="M1636.3,659.3 A7.2,7.2 0 1,0 1636.3,669.1" fill="none" stroke="#073a4f" stroke-width="6.6"/>
<circle cx="1653.1" cy="664.3" r="7.7" fill="none" stroke="#073a4f" stroke-width="6.6"/>
<path d="M1667.4,674.2 V653.7 H1674.4 V656 C1675.8,654.2 1678,653.2 1680.5,653.2 C1683.2,653.2 1685.3,654.4 1686.6,656.4 C1688.2,654.3 1690.5,653.2 1693.2,653.2 C1697.5,653.2 1700.1,656.3 1700.1,661 V674.2 H1692.7 V662.2 C1692.7,660.3 1691.8,659.4 1690.3,659.4 C1688.4,659.4 1686.9,660.7 1686.9,662.8 V674.2 H1680 V662.2 C1680,660.3 1679.1,659.4 1677.6,659.4 C1675.8,659.4 1674.4,660.7 1674.4,662.8 V674.2 Z" fill="#073a4f"/>
</g>
<g clip-path="url(#rsiclip)">
<line x1="7" y1="715.5" x2="1716" y2="715.5" stroke="#b2b2b2" stroke-width="1" stroke-dasharray="5 6"/>
<line x1="7" y1="854.5" x2="1716" y2="854.5" stroke="#b2b2b2" stroke-width="1" stroke-dasharray="5 6"/>
<polyline points="6.35,777.16 15.38,780.35 24.41,773.21 33.44,761.75 42.47,787.89 51.50,770.23 60.53,786.47 69.56,772.17 78.59,769.06 87.63,758.05 96.66,738.04 105.69,738.63 114.72,747.79 123.75,755.36 132.78,759.88 141.81,778.74 150.84,775.38 159.87,776.69 168.90,776.83 177.93,773.99 186.96,792.87 195.99,783.14 205.02,821.07 214.05,800.67 223.08,821.09 232.11,818.14 241.14,799.74 250.17,763.58 259.20,746.44 268.23,745.67 277.26,767.36 286.29,782.14 295.32,765.18 304.35,770.31 313.38,763.27 322.41,758.45 331.44,761.65 340.47,769.32 349.51,762.28 358.54,770.15 367.57,769.99 376.60,755.86 385.63,750.36 394.66,742.38 403.69,741.60 412.72,728.12 421.75,728.12 430.78,727.53 439.81,722.36 448.84,717.43 457.87,714.52 466.90,756.30 475.93,752.74 484.96,756.31 493.99,747.58 503.02,734.96 512.05,728.27 521.08,721.52 530.11,724.55 539.14,732.83 548.17,730.26 557.20,742.36 566.23,735.84 575.26,722.52 584.29,722.31 593.32,721.71 602.36,716.88 611.39,758.81 620.42,744.99 629.45,775.39 638.48,740.33 647.51,726.24 656.54,755.45 665.57,756.80 674.60,748.73 683.63,759.88 692.66,773.23 701.69,752.74 710.72,728.78 719.75,721.23 728.78,727.76 737.81,719.41 746.84,718.67 755.87,768.79 764.90,760.82 773.93,789.14 782.96,762.03 791.99,747.63 801.02,753.15 810.05,742.19 819.08,739.25 828.11,733.69 837.14,734.16 846.17,738.67 855.20,732.19 864.24,726.97 873.27,732.17 882.30,743.67 891.33,752.48 900.36,761.46 909.39,803.31 918.42,805.84 927.45,792.84 936.48,833.49 945.51,823.79 954.54,785.92 963.57,803.82 972.60,827.70 981.63,839.32 990.66,820.46 999.69,839.67 1008.72,801.49 1017.75,804.12 1026.78,784.09 1035.81,791.32 1044.84,781.73 1053.87,777.66 1062.90,774.24 1071.93,801.73 1080.96,796.02 1089.99,781.01 1099.02,785.99 1108.05,800.50 1117.09,801.50 1126.12,785.84 1135.15,787.00 1144.18,792.55 1153.21,776.65 1162.24,759.47 1171.27,743.14 1180.30,745.14 1189.33,742.74 1198.36,734.06 1207.39,728.79 1216.42,731.97 1225.45,721.94 1234.48,743.65 1243.51,729.18 1252.54,729.05 1261.57,743.88 1270.60,755.25 1279.63,745.39 1288.66,764.36 1297.69,750.63 1306.72,744.19 1315.75,752.16 1324.78,759.27 1333.81,753.47 1342.84,766.90 1351.87,773.29 1360.90,799.82 1369.93,803.73 1378.97,790.34 1388.00,780.44 1397.03,813.51 1406.06,813.68 1415.09,839.23 1424.12,826.81 1433.15,797.81 1442.18,804.33 1451.21,811.79 1460.24,809.09 1469.27,783.85 1478.30,791.23 1487.33,770.55 1496.36,769.51 1505.39,765.47 1514.42,770.63 1523.45,767.93 1532.48,772.07 1541.51,769.27 1550.54,787.80 1559.57,761.94 1568.60,758.70 1577.63,757.76 1586.66,751.92" fill="none" stroke="#2352a5" stroke-width="1.15" stroke-linejoin="round"/>
<text x="15.5" y="726.8" font-size="11.8" fill="#555">RSI (14, close)</text>
</g>
<line x1="6" y1="4.5" x2="1797" y2="4.5" stroke="#555"/>
<line x1="6" y1="895.5" x2="1797" y2="895.5" stroke="#555"/>
<line x1="6.5" y1="4" x2="6.5" y2="896" stroke="#555"/>
<line x1="1796.5" y1="4" x2="1796.5" y2="896" stroke="#555"/>
<line x1="1716.5" y1="4" x2="1716.5" y2="896" stroke="#555"/>
<line x1="6" y1="705.5" x2="1797" y2="705.5" stroke="#555"/>
<line x1="6" y1="863.5" x2="1797" y2="863.5" stroke="#555"/>
<line x1="1716" y1="18.5" x2="1721" y2="18.5" stroke="#555"/>
<text x="1727.5" y="22.9" font-size="14" letter-spacing="-0.25" fill="#515151">14200.00</text>
<line x1="1716" y1="52.5" x2="1721" y2="52.5" stroke="#555"/>
<text x="1727.5" y="56.6" font-size="14" letter-spacing="-0.25" fill="#515151">14000.00</text>
<line x1="1716" y1="89.5" x2="1721" y2="89.5" stroke="#555"/>
<text x="1727.5" y="93.6" font-size="14" letter-spacing="-0.25" fill="#515151">13800.00</text>
<line x1="1716" y1="127.5" x2="1721" y2="127.5" stroke="#555"/>
<text x="1727.5" y="131.2" font-size="14" letter-spacing="-0.25" fill="#515151">13600.00</text>
<line x1="1716" y1="163.5" x2="1721" y2="163.5" stroke="#555"/>
<text x="1727.5" y="167.5" font-size="14" letter-spacing="-0.25" fill="#515151">13400.00</text>
<line x1="1716" y1="201.5" x2="1721" y2="201.5" stroke="#555"/>
<text x="1727.5" y="205.9" font-size="14" letter-spacing="-0.25" fill="#515151">13200.00</text>
<line x1="1716" y1="278.5" x2="1721" y2="278.5" stroke="#555"/>
<text x="1727.5" y="283.0" font-size="14" letter-spacing="-0.25" fill="#515151">12800.00</text>
<line x1="1716" y1="318.5" x2="1721" y2="318.5" stroke="#555"/>
<text x="1727.5" y="322.8" font-size="14" letter-spacing="-0.25" fill="#515151">12600.00</text>
<line x1="1716" y1="358.5" x2="1721" y2="358.5" stroke="#555"/>
<text x="1727.5" y="362.7" font-size="14" letter-spacing="-0.25" fill="#515151">12400.00</text>
<line x1="1716" y1="400.5" x2="1721" y2="400.5" stroke="#555"/>
<text x="1727.5" y="404.1" font-size="14" letter-spacing="-0.25" fill="#515151">12200.00</text>
<line x1="1716" y1="441.5" x2="1721" y2="441.5" stroke="#555"/>
<text x="1727.5" y="445.7" font-size="14" letter-spacing="-0.25" fill="#515151">12000.00</text>
<line x1="1716" y1="484.5" x2="1721" y2="484.5" stroke="#555"/>
<text x="1727.5" y="488.1" font-size="14" letter-spacing="-0.25" fill="#515151">11800.00</text>
<line x1="1716" y1="526.5" x2="1721" y2="526.5" stroke="#555"/>
<text x="1727.5" y="531.0" font-size="14" letter-spacing="-0.25" fill="#515151">11600.00</text>
<line x1="1716" y1="569.5" x2="1721" y2="569.5" stroke="#555"/>
<text x="1727.5" y="573.4" font-size="14" letter-spacing="-0.25" fill="#515151">11400.00</text>
<line x1="1716" y1="605.5" x2="1721" y2="605.5" stroke="#555"/>
<text x="1727.5" y="609.4" font-size="14" letter-spacing="-0.25" fill="#515151">11240.00</text>
<line x1="1716" y1="644.5" x2="1721" y2="644.5" stroke="#555"/>
<text x="1727.5" y="648.7" font-size="14" letter-spacing="-0.25" fill="#515151">11065.00</text>
<line x1="1716" y1="681.5" x2="1721" y2="681.5" stroke="#555"/>
<text x="1727.5" y="685.5" font-size="14" letter-spacing="-0.25" fill="#515151">10905.00</text>
<rect x="1716" y="66" width="80" height="22" fill="#fff"/>
<line x1="1716" y1="77.5" x2="1721" y2="77.5" stroke="#555"/>
<text x="1727.5" y="82.6" font-size="14" letter-spacing="-0.25" fill="#333">13865.93</text>
<rect x="1740.5" y="11.5" width="31" height="20" rx="3" fill="#fff" stroke="#d5d8e8"/>
<text x="1744.6" y="26" font-size="13.6" fill="#555" textLength="23" lengthAdjust="spacingAndGlyphs">USD</text>
<path d="M1716,34 H1788.8 Q1790.8,34 1790.8,36 V53 Q1790.8,55 1788.8,55 H1716 Z" fill="#0f46a3"/>
<line x1="1716" y1="44.5" x2="1721" y2="44.5" stroke="#fff" stroke-opacity="0.6"/>
<text x="1727.5" y="49.9" font-size="14" letter-spacing="-0.25" fill="#fff" stroke="#fff" stroke-width="0.35">14050.00</text>
<path d="M1716,229 H1788.8 Q1790.8,229 1790.8,231 V248 Q1790.8,250 1788.8,250 H1716 Z" fill="#0f46a3"/>
<line x1="1716" y1="239.5" x2="1721" y2="239.5" stroke="#fff" stroke-opacity="0.6"/>
<text x="1727.5" y="245.0" font-size="14" letter-spacing="-0.25" fill="#fff" stroke="#fff" stroke-width="0.35">13000.00</text>
<line x1="1716" y1="750.5" x2="1721" y2="750.5" stroke="#555"/>
<text x="1727.5" y="755.0" font-size="14" letter-spacing="-0.25" fill="#515151">60.00</text>
<line x1="1716" y1="819.5" x2="1721" y2="819.5" stroke="#555"/>
<text x="1727.5" y="823.8" font-size="14" letter-spacing="-0.25" fill="#515151">40.00</text>
<line x1="33.5" y1="864" x2="33.5" y2="868" stroke="#555"/>
<text x="33.4" y="883" font-size="14" fill="#515151" text-anchor="middle">Oct</text>
<line x1="141.5" y1="864" x2="141.5" y2="868" stroke="#555"/>
<text x="141.5" y="883" font-size="14" fill="#515151" text-anchor="middle">19</text>
<line x1="232.5" y1="864" x2="232.5" y2="868" stroke="#555"/>
<text x="232.6" y="883" font-size="14" fill="#515151" text-anchor="middle">Nov</text>
<line x1="322.5" y1="864" x2="322.5" y2="868" stroke="#555"/>
<text x="322.4" y="883" font-size="14" fill="#515151" text-anchor="middle">16</text>
<line x1="412.5" y1="864" x2="412.5" y2="868" stroke="#555"/>
<text x="412.4" y="883" font-size="14" fill="#515151" text-anchor="middle">Dec</text>
<line x1="503.5" y1="864" x2="503.5" y2="868" stroke="#555"/>
<text x="503.3" y="883" font-size="14" fill="#515151" text-anchor="middle">15</text>
<line x1="611.5" y1="864" x2="611.5" y2="868" stroke="#555"/>
<text x="611.4" y="883" font-size="14" font-weight="bold" fill="#515151" text-anchor="middle">2021</text>
<line x1="782.5" y1="864" x2="782.5" y2="868" stroke="#555"/>
<text x="782.3" y="883" font-size="14" fill="#515151" text-anchor="middle">Feb</text>
<line x1="954.5" y1="864" x2="954.5" y2="868" stroke="#555"/>
<text x="954.3" y="883" font-size="14" fill="#515151" text-anchor="middle">Mar</text>
<line x1="1044.5" y1="864" x2="1044.5" y2="868" stroke="#555"/>
<text x="1044.4" y="883" font-size="14" fill="#515151" text-anchor="middle">15</text>
<line x1="1162.5" y1="864" x2="1162.5" y2="868" stroke="#555"/>
<text x="1162.5" y="883" font-size="14" fill="#515151" text-anchor="middle">Apr</text>
<line x1="1261.5" y1="864" x2="1261.5" y2="868" stroke="#555"/>
<text x="1261.3" y="883" font-size="14" fill="#515151" text-anchor="middle">19</text>
<line x1="1351.5" y1="864" x2="1351.5" y2="868" stroke="#555"/>
<text x="1351.3" y="883" font-size="14" fill="#515151" text-anchor="middle">May</text>
<line x1="1442.5" y1="864" x2="1442.5" y2="868" stroke="#555"/>
<text x="1442.3" y="883" font-size="14" fill="#515151" text-anchor="middle">17</text>
<line x1="1532.5" y1="864" x2="1532.5" y2="868" stroke="#555"/>
<text x="1532.4" y="883" font-size="14" fill="#515151" text-anchor="middle">Jun</text>
<line x1="1622.5" y1="864" x2="1622.5" y2="868" stroke="#555"/>
<text x="1622.5" y="883" font-size="14" fill="#515151" text-anchor="middle">15</text>
</svg></body></html>
